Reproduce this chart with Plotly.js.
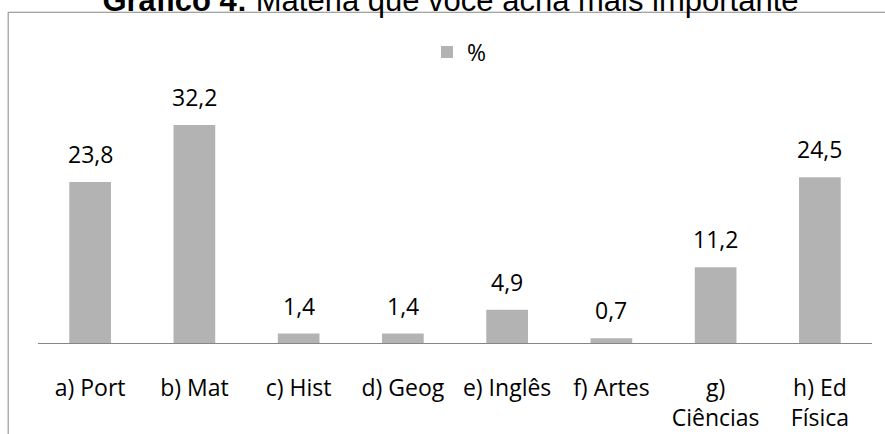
<!DOCTYPE html>
<html>
<head>
<meta charset="utf-8">
<script src="https://cdn.plot.ly/plotly-3.0.1.min.js"></script>
<style>html,body{margin:0;padding:0;background:#fff;}#chart{width:885px;height:434px;}</style>
</head>
<body>
<div id="chart"></div>
<script>
const categories = ["a) Port", "b) Mat", "c) Hist", "d) Geog", "e) Inglês", "f) Artes", "g)<br>Ciências", "h) Ed<br>Física"];
const values = [23.8, 32.2, 1.4, 1.4, 4.9, 0.7, 11.2, 24.5];
const seriesName = "%";
const titleText = "<b>Gráfico 4:</b> Matéria que você acha mais importante";

const labelFont = {family: "Open Sans, sans-serif", size: 23, color: "#000"};
const frameColor = "#868686";

const trace = {
  type: "bar",
  x: categories,
  y: values,
  name: seriesName,
  marker: {color: "#b3b3b3"},
  hoverinfo: "none",
  showlegend: true
};

const annotations = categories.map((c, i) => ({
  x: c, y: values[i], xref: "x", yref: "y",
  text: values[i].toFixed(1).replace(".", ","),
  showarrow: false, yanchor: "bottom", xanchor: "center",
  yshift: 10, font: labelFont
}));

const pxL = 38.3, pxR = 871.7, pxT = 60, pxB = 342.7;
const W = pxR - pxL, H = pxB - pxT;
const fx = p => (p - pxL) / W;
const fy = p => (pxB - p) / H;

const layout = {
  width: 885, height: 434,
  margin: {l: 38, r: 13, t: 60, b: 91, pad: 0},
  paper_bgcolor: "#fff", plot_bgcolor: "#fff",
  separators: ",.",
  title: {
    text: titleText,
    font: {family: "Liberation Sans, Arial, sans-serif", size: 31, color: "#000"},
    xref: "container", yref: "container",
    x: 450.5 / 885, xanchor: "center",
    y: 1, yanchor: "middle", pad: {t: 0, b: 0, l: 0, r: 0}
  },
  bargap: 0.6,
  xaxis: {
    type: "category",
    showline: true, linecolor: frameColor, linewidth: 1,
    showgrid: false, zeroline: false,
    ticks: "outside", ticklen: 24, tickcolor: "rgba(0,0,0,0)",
    tickfont: labelFont, tickangle: 0, automargin: false, fixedrange: true
  },
  yaxis: {
    range: [0, H / 6.76],
    showline: false, showgrid: false, zeroline: false,
    showticklabels: false, ticks: "", automargin: false, fixedrange: true
  },
  legend: {
    orientation: "h",
    x: fx(427), xanchor: "left",
    y: fy(52), yanchor: "middle",
    font: labelFont, bgcolor: "rgba(0,0,0,0)"
  },
  annotations: annotations,
  shapes: [
    {type: "line", xref: "paper", yref: "paper", x0: fx(8.5), x1: fx(8.5), y0: fy(434), y1: fy(12.3),
     line: {color: frameColor, width: 1}},
    {type: "line", xref: "paper", yref: "paper", x0: fx(8.5), x1: fx(886), y0: fy(12.3), y1: fy(12.3),
     line: {color: frameColor, width: 1}}
  ]
};

Plotly.newPlot("chart", [trace], layout, {staticPlot: true, displayModeBar: false});
</script>
</body>
</html>
